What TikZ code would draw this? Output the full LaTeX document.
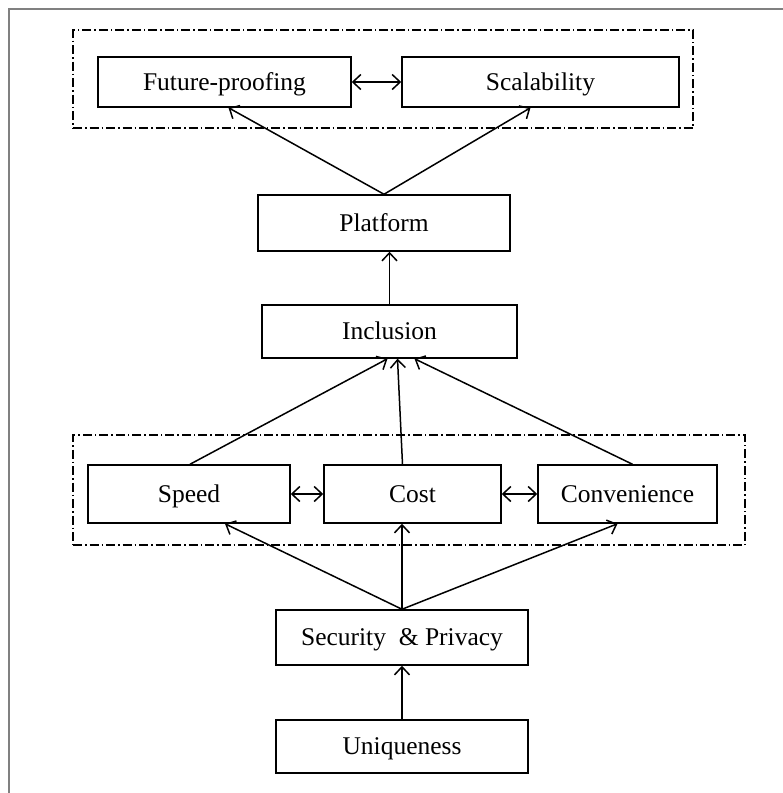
\documentclass[tikz,border=0pt]{standalone}
\usepackage{fontspec}
\setmainfont{Liberation Serif}
\usetikzlibrary{arrows.meta}
\tikzset{
    box/.style = {draw, line width=1.5pt, inner sep=0pt, text height=20pt, text depth=4pt,
                  font=\fontsize{25.5}{30}\selectfont},
    grp/.style = {draw, line width=1.1pt, dash pattern=on 9pt off 3pt on 1.5pt off 3pt},
    arr/.style = {->, line width=1.5pt}
}
\begin{document}
\begin{tikzpicture}[x=1pt, y=-1pt, >={Straight Barb[length=8pt,width=15pt]}]
        \useasboundingbox (0,0) rectangle (783,793);
        \draw[gray, line width=2pt] (790,9) -- (9,9) -- (9,800);

        \node[grp, minimum width=620pt, minimum height=98pt] (topgrp) at (383,79) {};
        \node[grp, minimum width=672pt, minimum height=110pt] (midgrp) at (409,490) {};

        \node[box, minimum width=253pt, minimum height=50pt] (fut) at (224.5,82) {Future-proofing};
        \node[box, minimum width=277pt, minimum height=50pt] (scal) at (540.5,82) {Scalability};
        \node[box, minimum width=252pt, minimum height=56pt] (plat) at (384,223) {Platform};
        \node[box, minimum width=255pt, minimum height=53pt] (incl) at (389.5,331.5) {Inclusion};
        \node[box, minimum width=202pt, minimum height=58pt] (speed) at (189,494) {Speed};
        \node[box, minimum width=177pt, minimum height=58pt] (cost) at (412.5,494) {Cost};
        \node[box, minimum width=179pt, minimum height=58pt] (conv) at (627.5,494) {Convenience};
        \node[box, minimum width=252pt, minimum height=55pt] (sec) at (402,637.5) {Security~~\& Privacy};
        \node[box, minimum width=252pt, minimum height=53pt] (uniq) at (402,746.5) {Uniqueness};

        \draw[arr, <->] (fut) -- (scal);
        \draw[arr, <->] (speed) -- (cost);
        \draw[arr, <->] (cost) -- (conv);

        \draw[arr] (plat.north) -- ([xshift=4pt]fut.south);
        \draw[arr] (plat.north) -- ([xshift=-10pt]scal.south);
        \draw[arr] (incl.north) -- (incl.north |- plat.south);

        \draw[arr] ([xshift=1pt]speed.north) -- ([xshift=-2pt]incl.south);
        \draw[arr] ([xshift=-10pt]cost.north) -- ([xshift=8pt]incl.south);
        \draw[arr] ([xshift=5pt]conv.north) -- ([xshift=25pt]incl.south);

        \draw[arr] (sec.north) -- ([xshift=36pt]speed.south);
        \draw[arr] (sec.north) -- (sec.north |- cost.south);
        \draw[arr] (sec.north) -- ([xshift=-10pt]conv.south);
        \draw[arr] (uniq) -- (sec);
\end{tikzpicture}
\end{document}
